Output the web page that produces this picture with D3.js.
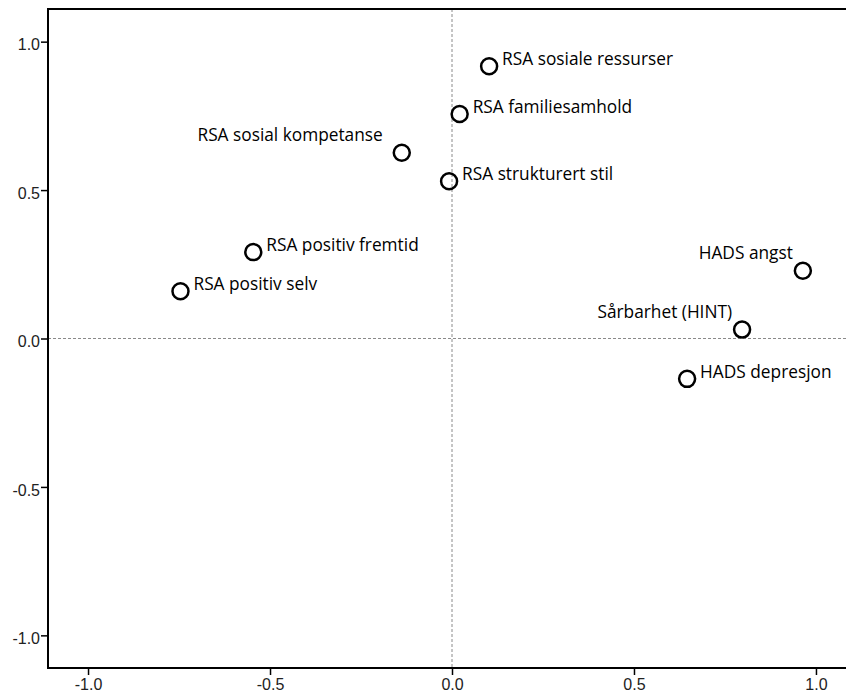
<!DOCTYPE html>
<html>
<head>
<meta charset="utf-8">
<script src="https://cdn.jsdelivr.net/npm/d3@7"></script>
<style>
  html, body { margin: 0; padding: 0; background: #fff; }
  svg { display: block; }
</style>
</head>
<body>
<svg id="chart" width="846" height="694"></svg>
<script>
// ---- data ----
const names = [
  "RSA sosiale ressurser",
  "RSA familiesamhold",
  "RSA sosial kompetanse",
  "RSA strukturert stil",
  "RSA positiv fremtid",
  "RSA positiv selv",
  "HADS angst",
  "Sårbarhet (HINT)",
  "HADS depresjon"
];
const dim1 = [0.102, 0.021, -0.138, -0.008, -0.546, -0.746, 0.964, 0.797, 0.646];
const dim2 = [0.917, 0.756, 0.626, 0.530, 0.291, 0.159, 0.228, 0.030, -0.136];
const tickValues = [-1.0, -0.5, 0.0, 0.5, 1.0];
const tickLabels = ["-1.0", "-0.5", "0.0", "0.5", "1.0"];

// label placement (style): side of point
const labelLeft = new Set(["RSA sosial kompetanse", "HADS angst", "Sårbarhet (HINT)"]);

// ---- layout ----
const svg = d3.select("#chart");
const plot = { left: 48, right: 856, top: 9, bottom: 668 };

const x = d3.scaleLinear().domain([-1.11, 1.11]).range([plot.left, plot.right]);
const y = d3.scaleLinear().domain([-1.11, 1.11]).range([plot.bottom, plot.top]);

const points = names.map((n, i) => ({ name: n, x: dim1[i], y: dim2[i] }));

// reference lines
svg.append("line")
  .attr("x1", x(0)).attr("x2", x(0))
  .attr("y1", plot.top).attr("y2", plot.bottom)
  .attr("stroke", "#8a8a8a").attr("stroke-width", 1)
  .attr("stroke-dasharray", "3,2");
svg.append("line")
  .attr("x1", plot.left).attr("x2", plot.right)
  .attr("y1", y(0)).attr("y2", y(0))
  .attr("stroke", "#8a8a8a").attr("stroke-width", 1)
  .attr("stroke-dasharray", "3,2");

// frame
svg.append("rect")
  .attr("x", plot.left).attr("y", plot.top)
  .attr("width", plot.right - plot.left).attr("height", plot.bottom - plot.top)
  .attr("fill", "none").attr("stroke", "#000").attr("stroke-width", 2);

// axes
const fmt = v => tickLabels[tickValues.indexOf(v)];
const xAxis = svg.append("g")
  .attr("transform", `translate(0,${plot.bottom})`)
  .call(d3.axisBottom(x).tickValues(tickValues).tickFormat(fmt).tickSize(7).tickSizeOuter(0).tickPadding(4));
const yAxis = svg.append("g")
  .attr("transform", `translate(${plot.left},0)`)
  .call(d3.axisLeft(y).tickValues(tickValues).tickFormat(fmt).tickSize(7).tickSizeOuter(0).tickPadding(1));

[xAxis, yAxis].forEach(g => {
  g.select(".domain").remove();
  g.selectAll(".tick line").attr("stroke", "#000").attr("stroke-width", 1.5);
  g.selectAll(".tick text")
    .attr("fill", "#222")
    .style("font-family", "'Liberation Sans', Arial, sans-serif")
    .style("font-size", "16px");
});
yAxis.selectAll(".tick text").attr("dy", "0.52em");

// points
svg.append("g").selectAll("circle")
  .data(points)
  .join("circle")
  .attr("cx", d => x(d.x))
  .attr("cy", d => y(d.y))
  .attr("r", 8)
  .attr("fill", "none")
  .attr("stroke", "#000")
  .attr("stroke-width", 2.5);

// labels
svg.append("g").selectAll("text")
  .data(points)
  .join("text")
  .attr("x", d => {
    if (!labelLeft.has(d.name)) return x(d.x) + 13;
    return x(d.x) - (d.name === "RSA sosial kompetanse" ? 19 : 10);
  })
  .attr("y", d => labelLeft.has(d.name) ? y(d.y) - 12 : y(d.y) - 1)
  .attr("text-anchor", d => labelLeft.has(d.name) ? "end" : "start")
  .style("font-family", "'Open Sans', sans-serif")
  .style("font-size", "17.3px")
  .attr("fill", "#000")
  .text(d => d.name);
</script>
</body>
</html>
